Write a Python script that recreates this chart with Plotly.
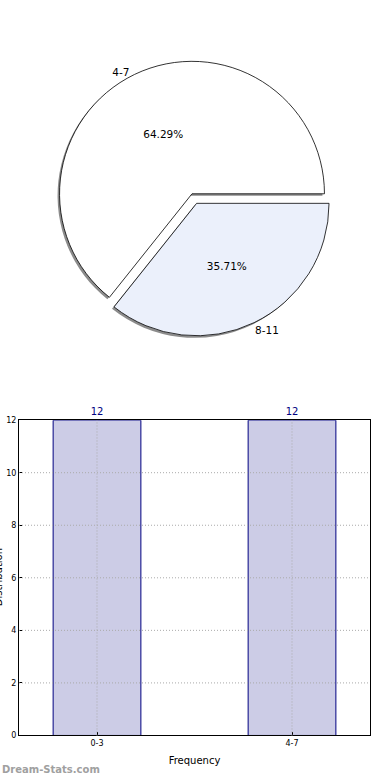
import plotly.graph_objects as go

# ---- data ----
pie_labels = ["4-7", "8-11"]
pie_values = [9, 5]
pie_colors = ["#ffffff", "#ebf0fb"]
pie_pull = [0, 0.08]

bar_categories = ["0-3", "4-7"]
bar_values = [12, 12]
y_ticks = [0, 2, 4, 6, 8, 10, 12]

x_title = "Frequency"
y_title = "Distribution"
watermark = "Dream-Stats.com"

W, H = 390, 780
FONT = "DejaVu Sans"

def px_x(a, b):
    return [a / W, b / W]

def px_y(top, bottom):
    return [(H - bottom) / H, (H - top) / H]

# pie geometry (pixels)
cx, cy, r = 192, 192, 134
half = r * (1 + max(pie_pull))
# first slice runs counterclockwise from 3 o'clock: start clockwise drawing at its end
first_frac = pie_values[0] / sum(pie_values)
rotation = 90 - 360 * first_frac

fig = go.Figure()

# shadow pie (also carries outside labels)
fig.add_trace(go.Pie(
    labels=pie_labels, values=pie_values, sort=False,
    direction="clockwise", rotation=rotation, pull=pie_pull,
    marker=dict(colors=["#8c8c8c", "#8c8c8c"], line=dict(width=0)),
    textinfo="label", textposition="outside",
    textfont=dict(family=FONT, size=10.5, color="black"),
    domain=dict(x=px_x(cx - half - 2, cx + half - 2), y=px_y(cy - half + 2, cy + half + 2)),
    showlegend=False, hoverinfo="skip",
))

# main pie
fig.add_trace(go.Pie(
    labels=pie_labels, values=pie_values, sort=False,
    direction="clockwise", rotation=rotation, pull=pie_pull,
    marker=dict(colors=pie_colors, line=dict(color="black", width=0.8)),
    texttemplate="%{percent:.2%}", textposition="inside",
    insidetextorientation="horizontal",
    textfont=dict(family=FONT, size=10.5, color="black"),
    domain=dict(x=px_x(cx - half, cx + half), y=px_y(cy - half, cy + half)),
    showlegend=False,
))

# bar chart
fig.add_trace(go.Bar(
    x=bar_categories, y=bar_values, width=0.45,
    marker=dict(color="#ccccE6", line=dict(color="#000080", width=1)),
    text=bar_values, textposition="outside", cliponaxis=False,
    textfont=dict(family=FONT, size=10, color="#000080"),
    showlegend=False, xaxis="x", yaxis="y",
))

grid_style = dict(color="#aaaaaa", width=1, dash="1px,2px")
shapes = []
for t in y_ticks[1:-1]:
    shapes.append(dict(type="line", xref="x domain", yref="y", x0=0, x1=1, y0=t, y1=t,
                       line=grid_style, layer="above"))
for c in bar_categories:
    shapes.append(dict(type="line", xref="x", yref="y domain", x0=c, x1=c, y0=0, y1=1,
                       line=grid_style, layer="above"))

fig.update_layout(
    width=W, height=H,
    margin=dict(l=0, r=0, t=0, b=0),
    paper_bgcolor="white", plot_bgcolor="white",
    font=dict(family=FONT, color="black"),
    xaxis=dict(
        domain=px_x(19, 370), range=[-0.4, 1.4], type="category",
        showline=True, linecolor="black", linewidth=1, mirror=True,
        showgrid=False,
        ticks="inside", ticklen=3, tickcolor="black",
        tickfont=dict(size=8, family=FONT),
        title=dict(text=x_title, font=dict(size=10, family=FONT), standoff=9),
        anchor="y", layer="above traces",
    ),
    yaxis=dict(
        domain=px_y(421, 740), range=[0, 12], tickvals=y_ticks,
        showline=True, linecolor="black", linewidth=1, mirror=True,
        showgrid=False, zeroline=False,
        ticks="inside", ticklen=3, tickcolor="black",
        tickfont=dict(size=8, family=FONT),
        anchor="x", layer="above traces",
    ),
    shapes=shapes,
    annotations=[
        dict(text=y_title, textangle=-90, xref="paper", yref="paper",
             x=-2 / W, y=(H - 580) / H, xanchor="center", yanchor="middle",
             showarrow=False, font=dict(size=10, family=FONT)),
        dict(text="<b>" + watermark + "</b>", xref="paper", yref="paper",
             x=0, y=0, xanchor="left", yanchor="bottom", showarrow=False,
             yshift=-2, font=dict(size=10, family=FONT, color="#a0a0a0")),
    ],
)

fig.write_html("out.html")
